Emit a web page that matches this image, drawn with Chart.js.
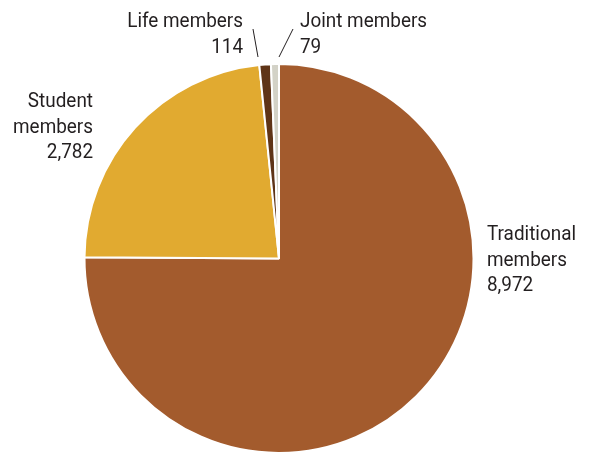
<!DOCTYPE html>
<html>
<head>
<meta charset="utf-8">
<script src="https://cdn.jsdelivr.net/npm/chart.js@4"></script>
<style>
  html, body { margin: 0; padding: 0; background: #fff; }
  #wrap { width: 593px; height: 455px; }
</style>
</head>
<body>
<div id="wrap"><canvas id="membership" width="593" height="455"></canvas></div>
<script>
// membership counts by type
var categories = ['Traditional members', 'Student members', 'Life members', 'Joint members'];
var members = [8972, 2782, 114, 79];
var colors = ['#A35B2D', '#E1AA30', '#5F3417', '#D3D2C7'];

// condensed look: roboto squeezed horizontally
var labelFont = '21px Roboto, "Noto Sans", sans-serif';
var squeeze = 0.9;

// where each label goes: x, first baseline, alignment, and an optional leader line
var labelSpots = [
  { x: 487, y: 240, align: 'left' },
  { x: 93, y: 107, align: 'right' },
  { x: 243, y: 27, align: 'right', line: [253, 29, 258, 57] },
  { x: 300, y: 27, align: 'left', line: [293, 29, 279, 57] }
];

function splitLabel(name, value) {
  var out = [];
  // life/joint members keep name on one line
  if (name.indexOf('Life') == 0 || name.indexOf('Joint') == 0) {
    out.push(name);
  } else {
    out = name.split(' ');
  }
  out.push(value.toLocaleString('en-US'));
  return out;
}

var pieLabels = {
  id: 'pieLabels',
  afterDraw: function(chart) {
    var ctx = chart.ctx;
    for (var i = 0; i < categories.length; i++) {
      var spot = labelSpots[i];
      var lines = splitLabel(categories[i], members[i]);
      for (var j = 0; j < lines.length; j++) {
        ctx.save();
        ctx.font = labelFont;
        ctx.fillStyle = '#231f20';
        ctx.textBaseline = 'alphabetic';
        ctx.textAlign = spot.align;
        ctx.translate(spot.x, spot.y + j * 25.5);
        ctx.scale(squeeze, 1);
        ctx.fillText(lines[j], 0, 0);
        ctx.restore();
      }
      if (spot.line) {
        ctx.save();
        ctx.beginPath();
        ctx.strokeStyle = '#231f20';
        ctx.lineWidth = 1;
        ctx.moveTo(spot.line[0], spot.line[1]);
        ctx.lineTo(spot.line[2], spot.line[3]);
        ctx.stroke();
        ctx.restore();
      }
    }
  }
};

var chart = new Chart(document.getElementById('membership'), {
  type: 'pie',
  data: {
    labels: categories,
    datasets: [{
      data: members,
      backgroundColor: colors,
      borderColor: '#ffffff',
      borderWidth: 2
    }]
  },
  options: {
    responsive: false,
    animation: false,
    devicePixelRatio: 1,
    layout: { padding: { top: 63, bottom: 1, left: 83, right: 118 } },
    plugins: {
      legend: { display: false },
      tooltip: { enabled: false }
    }
  },
  plugins: [pieLabels]
});
</script>
</body>
</html>
